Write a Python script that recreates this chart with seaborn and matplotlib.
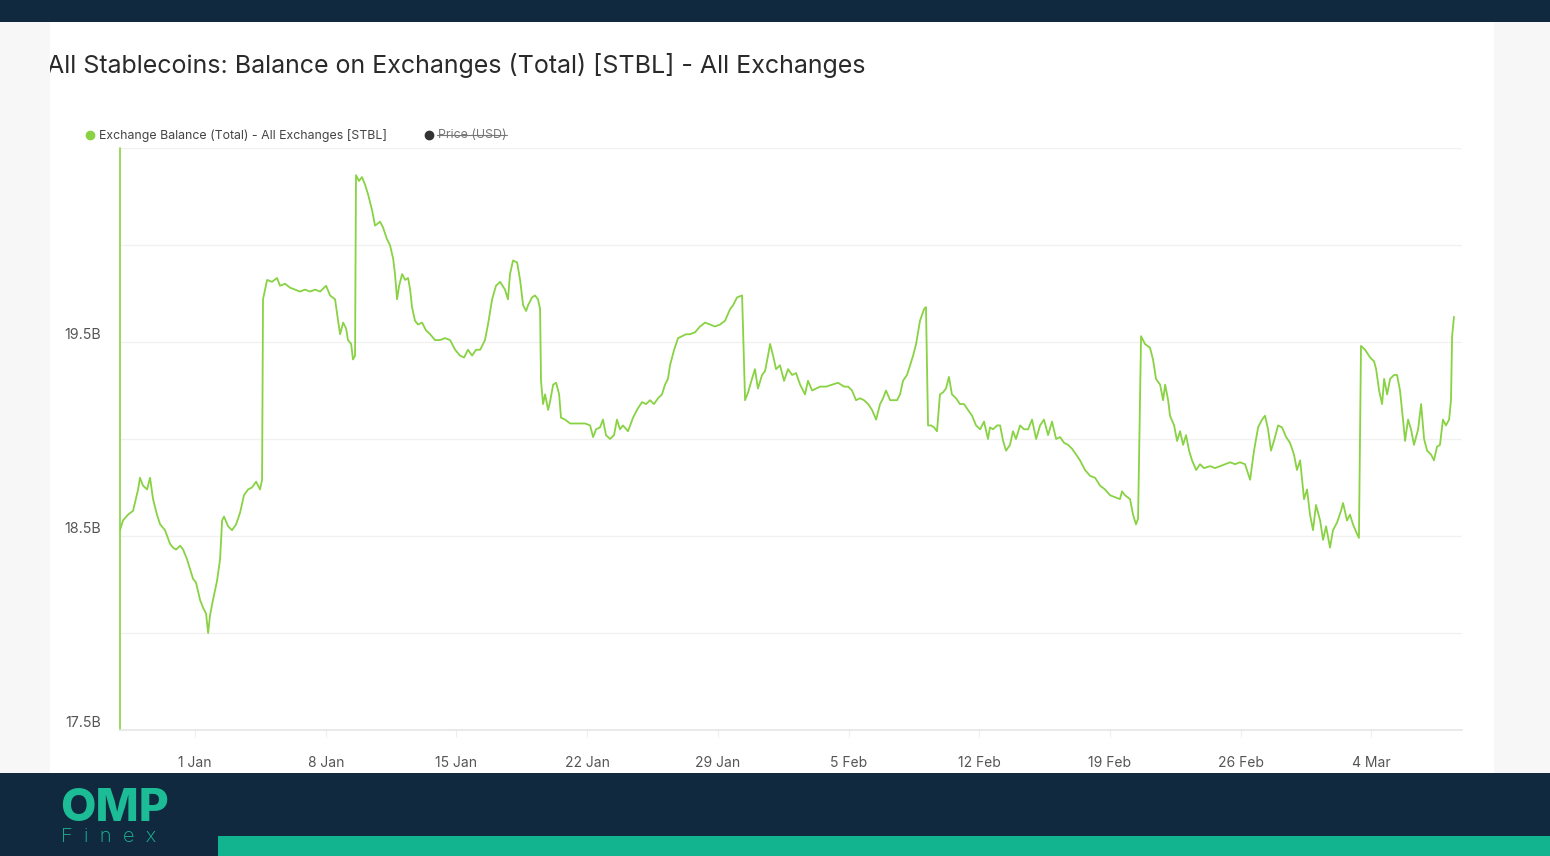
import numpy as np
import pandas as pd
import matplotlib
matplotlib.use("Agg")
import matplotlib.pyplot as plt
import matplotlib.dates as mdates
from matplotlib.patches import Rectangle
from matplotlib.lines import Line2D
import seaborn as sns

sns.set_theme(style="white")
plt.rcParams['font.family'] = ['Inter', 'DejaVu Sans']

# days counted from 1 Jan 2024, balance in billions
day_offset = [-4.02, -3.86, -3.59, -3.32, -3.05, -2.95, -2.79, -2.57, -2.41, -2.25, -2.04, -1.87,
              -1.61, -1.34, -1.18, -1.02, -0.80, -0.64, -0.43, -0.27, -0.11, 0.05, 0.27, 0.43,
              0.59, 0.70, 0.80, 0.96, 1.18, 1.34, 1.45, 1.55, 1.77, 1.98, 2.20, 2.41, 2.62, 2.84,
              3.05, 3.27, 3.48, 3.59, 3.64, 3.75, 3.86, 4.12, 4.39, 4.55, 4.82, 5.09, 5.36, 5.62,
              5.89, 6.16, 6.43, 6.70, 7.02, 7.23, 7.50, 7.66, 7.77, 7.93, 8.09, 8.19, 8.36, 8.46,
              8.57, 8.62, 8.78, 8.94, 9.11, 9.27, 9.48, 9.64, 9.91, 10.07, 10.28, 10.44, 10.61,
              10.71, 10.82, 10.93, 11.09, 11.25, 11.41, 11.52, 11.62, 11.78, 11.94, 12.16, 12.37,
              12.59, 12.85, 13.12, 13.39, 13.66, 13.93, 14.19, 14.41, 14.62, 14.84, 15.05, 15.27,
              15.53, 15.69, 15.91, 16.12, 16.34, 16.60, 16.76, 16.87, 17.03, 17.25, 17.41, 17.57,
              17.73, 17.84, 18.05, 18.21, 18.37, 18.48, 18.53, 18.64, 18.75, 18.91, 19.01, 19.18,
              19.34, 19.50, 19.60, 19.82, 20.09, 20.35, 20.62, 20.89, 21.16, 21.32, 21.48, 21.69,
              21.85, 22.01, 22.23, 22.44, 22.60, 22.76, 22.92, 23.19, 23.46, 23.67, 23.94, 24.16,
              24.37, 24.58, 24.80, 25.01, 25.17, 25.33, 25.44, 25.66, 25.87, 26.08, 26.30, 26.51,
              26.78, 27.05, 27.32, 27.58, 27.85, 28.12, 28.39, 28.66, 28.82, 29.03, 29.30, 29.46,
              29.62, 29.83, 29.99, 30.15, 30.37, 30.53, 30.69, 30.80, 30.96, 31.12, 31.33, 31.55,
              31.76, 31.98, 32.19, 32.41, 32.67, 32.83, 33.05, 33.26, 33.48, 33.80, 34.12, 34.44,
              34.76, 34.98, 35.19, 35.40, 35.62, 35.83, 36.05, 36.26, 36.48, 36.69, 36.85, 37.01,
              37.23, 37.39, 37.60, 37.76, 37.92, 38.13, 38.30, 38.46, 38.62, 38.83, 39.05, 39.15,
              39.26, 39.42, 39.58, 39.74, 39.90, 40.06, 40.22, 40.38, 40.54, 40.76, 40.97, 41.19,
              41.40, 41.62, 41.83, 42.05, 42.26, 42.47, 42.58, 42.74, 42.96, 43.12, 43.28, 43.44,
              43.65, 43.81, 43.97, 44.19, 44.40, 44.62, 44.83, 45.05, 45.26, 45.47, 45.69, 45.90,
              46.12, 46.33, 46.55, 46.76, 46.97, 47.19, 47.40, 47.67, 47.94, 48.21, 48.47, 48.74,
              49.01, 49.28, 49.54, 49.65, 49.81, 50.08, 50.24, 50.40, 50.51, 50.67, 50.88, 51.15,
              51.31, 51.47, 51.69, 51.85, 51.96, 52.12, 52.22, 52.44, 52.60, 52.76, 52.92, 53.08,
              53.24, 53.40, 53.62, 53.83, 54.04, 54.37, 54.63, 54.90, 55.17, 55.44, 55.70, 55.97,
              56.24, 56.51, 56.72, 56.94, 57.15, 57.31, 57.47, 57.63, 57.79, 58.01, 58.22, 58.44,
              58.65, 58.86, 59.02, 59.19, 59.40, 59.56, 59.72, 59.88, 60.04, 60.26, 60.42, 60.58,
              60.79, 60.95, 61.17, 61.38, 61.49, 61.70, 61.86, 62.02, 62.24, 62.34, 62.45, 62.67,
              62.94, 63.15, 63.26, 63.42, 63.58, 63.69, 63.85, 64.01, 64.22, 64.38, 64.54, 64.70,
              64.81, 64.97, 65.13, 65.29, 65.51, 65.67, 65.83, 65.99, 66.20, 66.36, 66.52, 66.68,
              66.84, 67.00, 67.17, 67.27, 67.33, 67.43]

balance_bn = [18.53, 18.58, 18.61, 18.63, 18.74, 18.80, 18.76, 18.74, 18.80, 18.69, 18.61, 18.56,
              18.53, 18.46, 18.44, 18.43, 18.45, 18.43, 18.38, 18.33, 18.28, 18.26, 18.17, 18.13,
              18.10, 18.00, 18.09, 18.17, 18.27, 18.38, 18.58, 18.60, 18.55, 18.53, 18.56, 18.62,
              18.71, 18.74, 18.75, 18.78, 18.74, 18.79, 19.72, 19.77, 19.82, 19.81, 19.83, 19.79,
              19.80, 19.78, 19.77, 19.76, 19.77, 19.76, 19.77, 19.76, 19.79, 19.74, 19.72, 19.61,
              19.54, 19.60, 19.57, 19.51, 19.49, 19.41, 19.43, 20.36, 20.33, 20.35, 20.31, 20.26,
              20.18, 20.10, 20.12, 20.09, 20.03, 20.00, 19.93, 19.85, 19.72, 19.79, 19.85, 19.82,
              19.83, 19.77, 19.68, 19.61, 19.59, 19.60, 19.56, 19.54, 19.51, 19.51, 19.52, 19.51,
              19.46, 19.43, 19.42, 19.46, 19.43, 19.46, 19.46, 19.51, 19.59, 19.72, 19.79, 19.81,
              19.77, 19.72, 19.85, 19.92, 19.91, 19.82, 19.69, 19.66, 19.69, 19.73, 19.74, 19.72,
              19.67, 19.30, 19.18, 19.23, 19.15, 19.19, 19.28, 19.29, 19.23, 19.11, 19.10, 19.08,
              19.08, 19.08, 19.08, 19.07, 19.01, 19.05, 19.06, 19.10, 19.02, 19.00, 19.02, 19.10,
              19.05, 19.07, 19.04, 19.11, 19.15, 19.19, 19.18, 19.20, 19.18, 19.21, 19.23, 19.28,
              19.31, 19.38, 19.46, 19.52, 19.53, 19.54, 19.54, 19.55, 19.58, 19.60, 19.59, 19.58,
              19.59, 19.61, 19.67, 19.69, 19.73, 19.74, 19.20, 19.24, 19.31, 19.36, 19.26, 19.33,
              19.35, 19.43, 19.49, 19.43, 19.36, 19.38, 19.30, 19.36, 19.33, 19.34, 19.28, 19.23,
              19.30, 19.25, 19.26, 19.27, 19.27, 19.28, 19.29, 19.27, 19.27, 19.25, 19.20, 19.21,
              19.20, 19.18, 19.15, 19.10, 19.18, 19.21, 19.25, 19.20, 19.20, 19.20, 19.23, 19.30,
              19.33, 19.38, 19.43, 19.49, 19.61, 19.67, 19.68, 19.07, 19.07, 19.06, 19.04, 19.23,
              19.24, 19.26, 19.32, 19.23, 19.21, 19.18, 19.18, 19.15, 19.12, 19.07, 19.05, 19.09,
              19.00, 19.06, 19.05, 19.07, 19.07, 18.99, 18.94, 18.97, 19.04, 19.00, 19.07, 19.05,
              19.05, 19.10, 19.00, 19.07, 19.10, 19.02, 19.09, 19.00, 19.01, 18.98, 18.97, 18.95,
              18.92, 18.89, 18.84, 18.81, 18.80, 18.76, 18.74, 18.71, 18.70, 18.69, 18.73, 18.71,
              18.69, 18.61, 18.56, 18.59, 19.53, 19.49, 19.47, 19.41, 19.31, 19.28, 19.20, 19.28,
              19.20, 19.12, 19.07, 18.99, 19.04, 18.97, 19.02, 18.94, 18.89, 18.84, 18.87, 18.85,
              18.86, 18.85, 18.86, 18.87, 18.88, 18.87, 18.88, 18.87, 18.79, 18.94, 19.06, 19.10,
              19.12, 19.05, 18.94, 18.99, 19.07, 19.06, 19.01, 18.98, 18.92, 18.84, 18.89, 18.69,
              18.74, 18.61, 18.53, 18.66, 18.58, 18.48, 18.55, 18.44, 18.53, 18.57, 18.63, 18.67,
              18.58, 18.61, 18.56, 18.51, 18.49, 19.48, 19.46, 19.42, 19.40, 19.36, 19.25, 19.18,
              19.31, 19.23, 19.31, 19.33, 19.33, 19.25, 19.10, 18.99, 19.10, 19.05, 18.97, 19.05,
              19.18, 19.00, 18.94, 18.92, 18.89, 18.96, 18.97, 19.10, 19.07, 19.10, 19.20, 19.53,
              19.63]

tick_dates = ['2024-01-01', '2024-01-08', '2024-01-15', '2024-01-22', '2024-01-29',
              '2024-02-05', '2024-02-12', '2024-02-19', '2024-02-26', '2024-03-04']
y_grid = [17.5, 18.0, 18.5, 19.0, 19.5, 20.0, 20.5]
y_labels = ['17.5B', '', '18.5B', '', '19.5B', '', '']

title = 'All Stablecoins: Balance on Exchanges (Total) [STBL] - All Exchanges'
series_name = 'Exchange Balance (Total) - All Exchanges [STBL]'
price_name = 'Price (USD)'

green = '#88d243'
navy = '#10293e'
teal = '#12b48f'

W, H = 1550, 856
def fx(px):
    return px / W
def fy(py):
    return 1 - py / H

base = pd.Timestamp('2024-01-01')
df = pd.DataFrame({'date': base + pd.to_timedelta(day_offset, unit='D'), 'balance': balance_bn})

fig = plt.figure(figsize=(W / 100, H / 100), dpi=100)
fig.patch.set_facecolor('#f7f7f7')

# white panel behind the chart
fig.patches.append(Rectangle((fx(50), fy(773)), fx(1494) - fx(50), fy(22) - fy(773),
                             transform=fig.transFigure, facecolor='white', edgecolor='none', zorder=-1))

ax = fig.add_axes([fx(120), fy(730), fx(1462) - fx(120), fy(148) - fy(730)])
ax.set_zorder(2)
ax.set_facecolor('white')

sns.lineplot(data=df, x='date', y='balance', ax=ax, color=green, linewidth=1.3, estimator=None)
ax.axvline(df['date'].iloc[0], color=green, linewidth=1.2, clip_on=False)

ax.set_xlim(df['date'].iloc[0], base + pd.Timedelta(days=67.86))
ax.set_ylim(17.5, 20.5)
ax.set_yticks(y_grid)
ax.set_yticklabels(y_labels)
ax.set_xticks(pd.to_datetime(tick_dates))
ax.xaxis.set_major_formatter(mdates.DateFormatter('%-d %b'))
ax.set_xlabel('')
ax.set_ylabel('')

ax.grid(axis='y', color='#f1f1f1', linewidth=1)
ax.grid(axis='x', visible=False)
for side in ['top', 'right', 'left']:
    ax.spines[side].set_visible(False)
ax.spines['bottom'].set_color('#e6e6e6')
ax.spines['bottom'].set_linewidth(1.2)

ax.tick_params(axis='y', length=0, pad=13.5, labelsize=10.3, labelcolor='#555555')
ax.tick_params(axis='x', length=5, width=0.8, color='#eeeeee', pad=14, labelsize=10,
               labelcolor='#555555', bottom=True)
for lab in ax.get_yticklabels():
    lab.set_verticalalignment('bottom')

# title and legend
fig.text(fx(47), fy(65), title, fontsize=18, color='#2a2a2a', va='center', ha='left')
fig.patches.append(Rectangle((0, fy(773)), fx(50), fy(22) - fy(773), transform=fig.transFigure,
                             facecolor='#f7f7f7', edgecolor='none', zorder=5))

fig.lines.append(Line2D([fx(90)], [fy(135)], marker='o', markersize=6, color=green,
                        transform=fig.transFigure))
fig.text(fx(99), fy(135), series_name, fontsize=8.9, color='#444444', va='center', ha='left')
fig.lines.append(Line2D([fx(429)], [fy(135)], marker='o', markersize=6, color='#333333',
                        transform=fig.transFigure))
fig.text(fx(438), fy(135), price_name, fontsize=8.9, color='#777777', va='center', ha='left')
fig.lines.append(Line2D([fx(437), fx(507)], [fy(135), fy(135)], color='#777777', linewidth=0.8,
                        transform=fig.transFigure))

# frame bands and logo
fig.patches.append(Rectangle((0, fy(22)), 1, 22 / H, transform=fig.transFigure,
                             facecolor=navy, edgecolor='none', zorder=6))
fig.patches.append(Rectangle((0, 0), 1, fy(773), transform=fig.transFigure,
                             facecolor=navy, edgecolor='none', zorder=6))
fig.patches.append(Rectangle((fx(218), 0), 1 - fx(218), 20 / H, transform=fig.transFigure,
                             facecolor=teal, edgecolor='none', zorder=7))

fig.text(fx(60), fy(821), 'OMP', fontsize=33, fontweight='heavy', color='#1cbc96',
         va='baseline', ha='left', zorder=8)
fig.text(fx(61), fy(842), 'F  i  n  e  x', fontsize=14.5, fontweight='light', color='#1cbc96',
         va='baseline', ha='left', zorder=8)

fig.savefig('out.png', dpi=100, facecolor=fig.get_facecolor())
